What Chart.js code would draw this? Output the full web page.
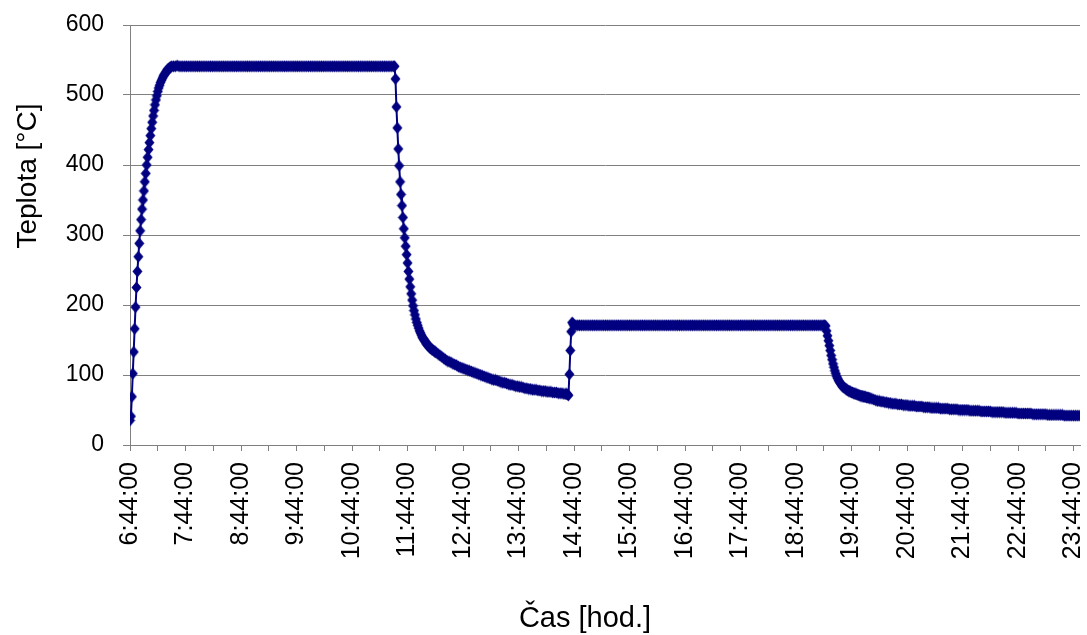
<!DOCTYPE html>
<html>
<head>
<meta charset="utf-8">
<script src="https://cdn.jsdelivr.net/npm/chart.js@4/dist/chart.umd.min.js"></script>
<style>
  html, body { margin: 0; padding: 0; background: #ffffff; }
  #wrap { width: 1087px; height: 635px; }
</style>
</head>
<body>
<div id="wrap"><canvas id="chart" width="1087" height="635"></canvas></div>
<script>
// Hour labels on the time axis (one every 60 minutes, minor tick marks every 30)
const tickLabels = ['6:44:00', '7:44:00', '8:44:00', '9:44:00', '10:44:00', '11:44:00',
  '12:44:00', '13:44:00', '14:44:00', '15:44:00', '16:44:00', '17:44:00',
  '18:44:00', '19:44:00', '20:44:00', '21:44:00', '22:44:00', '23:44:00'];

const xTitle = 'Čas [hod.]';
const yTitle = 'Teplota [°C]';

// Logged temperature [°C]; each run starts at a minute offset from 6:44 and has its own logging step
const riseStart = 0, riseStep = 1;
const riseTemps = [35, 41, 69, 102, 133, 166, 197, 225, 248, 269, 288, 306, 322, 337, 350, 363,
  376, 388, 400, 411, 422, 432, 442, 452, 461, 470, 478, 486, 493, 499, 505, 510, 514, 518,
  521, 524, 527, 529, 531, 533, 535, 537, 538, 539, 540, 541];

const hold1Start = 47, hold1Step = 2;
const hold1Temps = [
  541, 541, 542, 541, 541, 541, 541, 541, 541, 541, 541, 541, 541, 541, 541, 541, 541, 541, 541, 541,
  541, 541, 541, 541, 541, 541, 541, 541, 541, 541, 541, 541, 541, 541, 541, 541, 541, 541, 541, 541,
  541, 541, 541, 541, 541, 541, 541, 541, 541, 541, 541, 541, 541, 541, 541, 541, 541, 541, 541, 541,
  541, 541, 541, 541, 541, 541, 541, 541, 541, 541, 541, 541, 541, 541, 541, 541, 541, 541, 541, 541,
  541, 541, 541, 541, 541, 541, 541, 541, 541, 541, 541, 541, 541, 541, 541, 541, 541, 541, 541, 541,
  541, 541, 541, 541, 541, 541, 541, 541, 541, 541, 541, 541, 541, 541, 541, 541, 541, 541, 541, 541];

const drop1Start = 286, drop1Step = 1;
const drop1Temps = [541, 523, 483, 453, 423, 399, 376, 358, 342, 325, 309, 296, 284, 272, 260,
  248, 237, 226, 216, 207, 199, 192, 186, 180, 175, 171, 167, 163, 160, 157, 154, 152, 150, 148,
  146, 144, 142, 141, 139, 138, 137, 136, 135, 134, 133, 132];

const tail1Start = 333, tail1Step = 2;
const tail1Temps = [
  130, 128, 126, 124, 122, 120, 119, 118, 116, 115,
  114, 112, 111, 110, 109, 108, 107, 106, 105, 104,
  103, 102, 101, 100, 99, 98, 97, 96, 95, 94,
  93, 93, 92, 91, 90, 89, 89, 88, 87, 86,
  86, 85, 84, 84, 83, 83, 82, 81, 81, 80,
  80, 79, 79, 79, 78, 78, 77, 77, 77, 76,
  76, 76, 75, 75, 75, 74, 74, 74, 73, 73];

const jumpStart = 472, jumpStep = 1;
const jumpTemps = [73, 72, 71, 101, 135, 162, 175, 173, 171];

const hold2Start = 482, hold2Step = 2;
const hold2Temps = [
  171, 171, 171, 171, 171, 171, 171, 171, 171, 171, 171, 171, 171, 171, 171,
  171, 171, 171, 171, 171, 171, 171, 171, 171, 171, 171, 171, 171, 171, 171,
  171, 171, 171, 171, 171, 171, 171, 171, 171, 171, 171, 171, 171, 171, 171,
  171, 171, 171, 171, 171, 171, 171, 171, 171, 171, 171, 171, 171, 171, 171,
  171, 171, 171, 171, 171, 171, 171, 171, 171, 171, 171, 171, 171, 171, 171,
  171, 171, 171, 171, 171, 171, 171, 171, 171, 171, 171, 171, 171, 171, 171,
  171, 171, 171, 171, 171, 171, 171, 171, 171, 171, 171, 171, 171, 171, 171,
  171, 171, 171, 171, 171, 171, 171, 171, 171, 171, 171, 171, 171, 171, 171,
  171, 171, 171, 171, 171, 171, 171, 171, 171, 171, 171, 171, 171, 171, 171];

const drop2Start = 751, drop2Step = 1;
const drop2Temps = [
  171, 170, 163, 156, 149, 142, 135, 128, 122, 116,
  111, 106, 102, 98, 95, 92, 90, 88, 86, 84,
  83, 82, 81, 80, 79, 78, 77, 77, 76, 75,
  75, 74, 74, 73, 73, 72, 72, 71, 71, 70,
  70, 70, 69, 69, 69, 68, 68, 68, 67, 67];

const tail2Start = 802, tail2Step = 2;
const tail2Temps = [
  66, 65, 64, 63, 63, 62, 62, 61, 61, 60,
  60, 59, 59, 59, 58, 58, 58, 57, 57, 57,
  56, 56, 56, 56, 55, 55, 55, 55, 54, 54,
  54, 54, 53, 53, 53, 53, 53, 52, 52, 52,
  52, 52, 51, 51, 51, 51, 51, 50, 50, 50,
  50, 50, 50, 49, 49, 49, 49, 49, 49, 48,
  48, 48, 48, 48, 48, 47, 47, 47, 47, 47,
  47, 47, 46, 46, 46, 46, 46, 46, 46, 45,
  45, 45, 45, 45, 45, 45, 45, 44, 44, 44,
  44, 44, 44, 44, 44, 43, 43, 43, 43, 43,
  43, 43, 43, 43, 42, 42, 42, 42, 42, 42,
  42, 42, 42];

const runs = [
  [riseStart, riseStep, riseTemps],
  [hold1Start, hold1Step, hold1Temps],
  [drop1Start, drop1Step, drop1Temps],
  [tail1Start, tail1Step, tail1Temps],
  [jumpStart, jumpStep, jumpTemps],
  [hold2Start, hold2Step, hold2Temps],
  [drop2Start, drop2Step, drop2Temps],
  [tail2Start, tail2Step, tail2Temps]
];

const points = [];
runs.forEach(([start, step, temps]) => {
  temps.forEach((t, i) => points.push({ x: start + i * step, y: t }));
});

// Tick positions in minutes after 6:44: a labelled tick each hour, a bare one each half hour
const tickValues = [];
for (let i = 0; i < tickLabels.length * 2 - 1; i++) tickValues.push(i * 30);

const FONT = "'Liberation Sans', Arial, Helvetica, sans-serif";
const AXIS_GREY = '#808080';
const NAVY = '#000080';

// Diamond marker, a little taller than wide
const marker = document.createElement('canvas');
marker.width = 11;
marker.height = 13;
(function () {
  const m = marker.getContext('2d');
  m.fillStyle = NAVY;
  m.beginPath();
  m.moveTo(5.5, 0.5);
  m.lineTo(10.5, 6.5);
  m.lineTo(5.5, 12.5);
  m.lineTo(0.5, 6.5);
  m.closePath();
  m.fill();
})();

// Axis titles placed freely, as in the worksheet layout
const axisTitles = {
  id: 'axisTitles',
  afterDraw(chart) {
    const ctx = chart.ctx;
    ctx.save();
    ctx.fillStyle = '#000000';
    ctx.textAlign = 'center';
    ctx.textBaseline = 'middle';
    ctx.font = '29px ' + FONT;
    ctx.fillText(xTitle, 585, 619);
    ctx.translate(28, 176);
    ctx.rotate(-Math.PI / 2);
    ctx.font = '28px ' + FONT;
    ctx.fillText(yTitle, 0, 0);
    ctx.restore();
  }
};

new Chart(document.getElementById('chart'), {
  type: 'line',
  data: {
    datasets: [{
      data: points,
      borderColor: NAVY,
      backgroundColor: NAVY,
      borderWidth: 2,
      pointStyle: marker,
      pointRadius: 5,
      tension: 0,
      fill: false
    }]
  },
  plugins: [axisTitles],
  options: {
    responsive: false,
    animation: false,
    devicePixelRatio: 1,
    layout: { padding: { top: 25, right: 0, bottom: 0, left: 0 } },
    plugins: {
      legend: { display: false },
      tooltip: { enabled: false }
    },
    scales: {
      x: {
        type: 'linear',
        min: 0,
        max: 1027,
        afterBuildTicks: (scale) => {
          scale.ticks = tickValues.map(v => ({ value: v }));
        },
        afterFit: (scale) => {
          scale.height = 190;
          scale.paddingLeft = 0;
          scale.paddingRight = 0;
        },
        grid: {
          drawOnChartArea: false,
          drawTicks: true,
          tickLength: 6,
          color: AXIS_GREY,
          lineWidth: 1
        },
        border: { display: true, color: AXIS_GREY, width: 1 },
        ticks: {
          autoSkip: false,
          minRotation: 90,
          maxRotation: 90,
          padding: 11,
          color: '#000000',
          font: { family: FONT, size: 25 },
          callback: (value, index) => (index % 2 === 0 ? tickLabels[index / 2] : '')
        }
      },
      y: {
        min: 0,
        max: 600,
        afterFit: (scale) => {
          scale.width = 130;
          scale.paddingTop = 0;
          scale.paddingBottom = 0;
        },
        grid: {
          color: AXIS_GREY,
          lineWidth: 1,
          drawTicks: true,
          tickLength: 7
        },
        border: { display: true, color: AXIS_GREY, width: 1 },
        ticks: {
          stepSize: 100,
          padding: 19,
          color: '#000000',
          font: { family: FONT, size: 23 }
        }
      }
    }
  }
});
</script>
</body>
</html>
